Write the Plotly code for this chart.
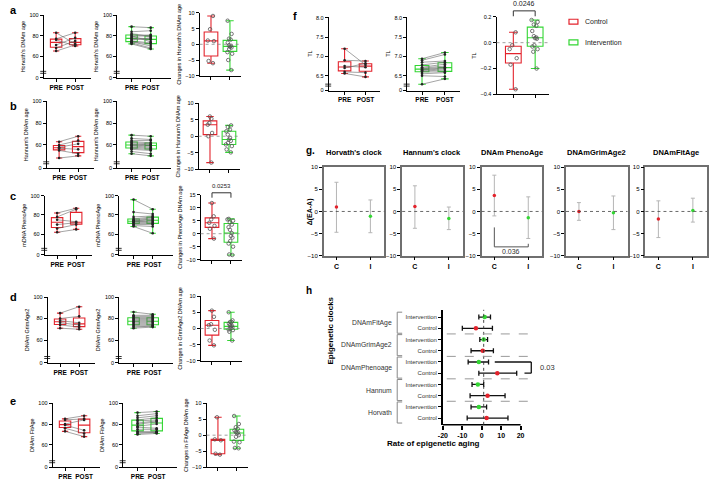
import numpy as np
import plotly.graph_objects as go

W, H = 709, 480
RED = '#e3232c'
GREEN = '#33d633'
FONT = 'Arial, Liberation Sans, Helvetica, sans-serif'

# ---------------- data ----------------
# a: Horvath
HORVATH_CTRL_PRE = [83, 77, 76, 71, 68, 65]
HORVATH_CTRL_POST = [72, 83, 70, 78, 75, 71]
HORVATH_INT_PRE = [89, 84, 82, 81, 80, 79, 78, 77, 76, 75, 74, 74, 73, 72]
HORVATH_INT_POST = [88, 85, 80, 79, 74, 81, 77, 76, 78, 73, 70, 72, 68, 67]
HORVATH_CHG_CTRL = [9.0, 4.8, 1.2, 1.0, -5.3, -6.0]
HORVATH_CHG_INT = [7.5, 3.3, 1.8, 1.5, 0.5, -0.3, -0.5, -0.8, -1.0, -1.5, -2.5, -3.0, -5.0, -8.2]
# b: Hannum
HANNUM_CTRL_PRE = [63, 60, 58, 57, 55, 48]
HANNUM_CTRL_POST = [68, 64, 61, 56, 52, 50]
HANNUM_INT_PRE = [69, 66, 64, 63, 62, 61, 60, 60, 59, 58, 57, 56, 54, 52]
HANNUM_INT_POST = [68, 65, 64, 62, 61, 60, 60, 59, 58, 57, 56, 55, 52, 50]
HANNUM_CHG_CTRL = [6.0, 5.3, 4.0, 3.5, 1.0, 0.0, -8.0]
HANNUM_CHG_INT = [3.3, 2.8, 2.0, 1.5, 0.5, -0.5, -1.0, -1.4, -2.0, -2.5, -3.0, -4.0, -4.9]
# c: PhenoAge
PHENO_CTRL_PRE = [82, 78, 75, 70, 66, 62]
PHENO_CTRL_POST = [87, 86, 73, 72, 70, 65]
PHENO_INT_PRE = [96, 83, 78, 76, 75, 74, 74, 73, 73, 72, 71, 70, 69, 68]
PHENO_INT_POST = [86, 81, 79, 78, 77, 76, 75, 74, 73, 72, 71, 70, 68, 61]
PHENO_CHG_CTRL = [11.8, 6.7, 5.5, 4.2, 3.0, 1.9, -1.9]
PHENO_CHG_INT = [5.7, 5.5, 5.0, 4.3, 3.5, 2.5, 1.5, 0.2, -0.9, -1.5, -2.8, -3.8, -5.0, -8.0, -8.2]
# d: GrimAge2
GRIM_CTRL_PRE = [85, 80, 78, 76, 74, 71]
GRIM_CTRL_POST = [91, 82, 76, 74, 72, 70]
GRIM_INT_PRE = [86, 83, 82, 81, 80, 79, 78, 77, 76, 75, 74, 73, 72, 71]
GRIM_INT_POST = [84, 83, 82, 81, 80, 79, 78, 77, 76, 75, 74, 73, 73, 72]
GRIM_CHG_CTRL = [5.5, 3.6, 1.3, 1.0, -0.4, -3.7, -5.2]
GRIM_CHG_INT = [5.0, 2.5, 2.0, 2.0, 1.5, 1.0, 0.8, 0.5, 0.3, 0.0, -0.3, -0.5, -1.0, -3.7]
# e: FitAge
FIT_CTRL_PRE = [85, 84, 80, 79, 76, 73]
FIT_CTRL_POST = [88, 85, 84, 74, 71, 68]
FIT_INT_PRE = [91, 88, 86, 84, 83, 81, 80, 78, 77, 75, 73, 72, 71, 70]
FIT_INT_POST = [92, 90, 88, 86, 84, 83, 82, 80, 76, 75, 73, 72, 72, 71]
FIT_CHG_CTRL = [5.6, -1.3, -1.6, -5.8, -6.1]
FIT_CHG_INT = [6.0, 3.5, 2.5, 2.0, 1.5, 1.0, 0.8, 0.6, 0.0, -0.5, -2.0, -2.2, -4.0, -4.1]
# f: telomere length
TL_CTRL_PRE = [7.2, 6.9, 6.75, 6.7, 6.6, 6.56]
TL_CTRL_POST = [6.78, 6.88, 6.72, 6.82, 6.58, 6.47]
TL_INT_PRE = [6.94, 6.9, 6.85, 6.78, 6.72, 6.7, 6.68, 6.66, 6.64, 6.62, 6.6, 6.55, 6.5, 6.28]
TL_INT_POST = [7.1, 7.05, 6.88, 6.85, 6.8, 6.75, 6.72, 6.7, 6.68, 6.65, 6.6, 6.58, 6.48, 6.42]
TL_CHG_CTRL = [0.08, -0.02, -0.05, -0.12, -0.17, -0.36]
TL_CHG_INT = [0.175, 0.16, 0.14, 0.13, 0.09, 0.05, 0.04, 0.035, 0.03, -0.02, -0.03, -0.05, -0.07, -0.2]
# g: Δ(EA-A)
G_CLOCKS = ["Horvath's clock", "Hannum's clock", "DNAm PhenoAge", "DNAmGrimAge2", "DNAmFitAge"]
G_C_MEAN = [1.0, 1.1, 3.6, 0.0, -1.7]
G_C_LO = [-4.7, -3.8, -1.0, -2.0, -5.9]
G_C_HI = [6.6, 5.8, 8.2, 2.0, 2.4]
G_I_MEAN = [-1.1, -1.6, -1.4, -0.3, 0.2]
G_I_LO = [-4.8, -4.1, -6.1, -4.1, -2.4]
G_I_HI = [2.6, 1.0, 3.3, 3.5, 3.0]
G_CATS = ['C', 'I']
# h: rate of epigenetic aging (bottom to top)
H_CLOCKS = ['Horvath', 'Hannum', 'DNAmPhenoage', 'DNAmGrimAge2', 'DNAmFitAge']
H_C_MEAN = [2.5, 3.0, 8.0, 0.5, -3.0]
H_C_LO = [-7.5, -6.0, -1.5, -5.5, -10.0]
H_C_HI = [13.5, 12.0, 18.0, 6.0, 5.5]
H_I_MEAN = [-1.5, -2.0, -1.5, 1.0, 1.5]
H_I_LO = [-5.5, -5.0, -7.0, -1.0, -1.5]
H_I_HI = [2.5, 1.0, 3.5, 3.0, 4.5]
H_XTICKS = [-20, -10, 0, 10, 20]
GROUPS = ['Control', 'Intervention']

# ---------------- helpers ----------------
fig = go.Figure()
AX = {}
SHAPES = []
ANN = []
cnt = [0]


def fx(p):
    return p / W


def fy(p):
    return 1 - p / H


def axes(x0, x1, top, bottom, xcfg, ycfg):
    cnt[0] += 1
    i = cnt[0]
    s = '' if i == 1 else str(i)
    base = dict(showgrid=False, zeroline=False, showline=True, linecolor='black', linewidth=1,
                ticks='outside', ticklen=3, tickwidth=1, tickcolor='black', fixedrange=True,
                tickfont=dict(family=FONT, size=5.5, color='black'))
    xd = dict(base)
    xd.update(domain=[fx(x0), fx(x1)], anchor='y' + s)
    xd.update(xcfg)
    yd = dict(base)
    yd.update(domain=[fy(bottom), fy(top)], anchor='x' + s)
    yd.update(ycfg)
    AX['xaxis' + s] = xd
    AX['yaxis' + s] = yd
    return 'x' + s, 'y' + s


def stat_box(xa, ya, pos, vals, color, width):
    a = np.array(vals, float)
    q1, med, q3 = np.percentile(a, [25, 50, 75])
    fig.add_trace(go.Box(x=[pos], q1=[q1], median=[med], q3=[q3], lowerfence=[a.min()],
                         upperfence=[a.max()], xaxis=xa, yaxis=ya, width=width, whiskerwidth=0.55,
                         line=dict(color=color, width=1.1), fillcolor='rgba(255,255,255,0)',
                         boxpoints=False, showlegend=False, hoverinfo='skip'))


def jitter_points(xa, ya, pos, vals, width):
    fig.add_trace(go.Box(x=[pos] * len(vals), y=vals, xaxis=xa, yaxis=ya, width=width,
                         boxpoints='all', jitter=0.55, pointpos=0,
                         line=dict(color='rgba(0,0,0,0)', width=0), fillcolor='rgba(0,0,0,0)',
                         marker=dict(symbol='circle-open', size=3.5, color='#555',
                                     line=dict(width=0.8)),
                         showlegend=False, hoverinfo='skip'))


def paired(x0, w, top, bottom, pre, post, color, title, yr, tv, tt, xr):
    xa, ya = axes(x0, x0 + w, top, bottom,
                  dict(range=xr, tickvals=[0, 1], ticktext=['<b>PRE</b>', '<b>POST</b>'],
                       tickfont=dict(family=FONT, size=6.5, color='black')),
                  dict(range=yr, tickvals=tv, ticktext=tt,
                       title=dict(text=title, font=dict(family=FONT, size=5.5, color='black'), standoff=3)))
    for pos, vals in ((0, pre), (1, post)):
        stat_box(xa, ya, pos, vals, color, 0.6)
    xs, ys = [], []
    for a, b in zip(pre, post):
        xs += [0, 1, None]
        ys += [a, b, None]
    fig.add_trace(go.Scatter(x=xs, y=ys, xaxis=xa, yaxis=ya, mode='lines+markers',
                             line=dict(color='#666', width=0.6), marker=dict(color='#222', size=2.6),
                             hoverinfo='skip', showlegend=False))
    for dy in (4.5, 6.5):
        SHAPES.append(dict(type='line', xref='paper', yref='paper', x0=fx(x0 - 3.5), x1=fx(x0 + 2.5),
                           y0=fy(bottom - dy), y1=fy(bottom - dy), line=dict(color='black', width=0.8)))
    return xa, ya


def change(x0, w, top, bottom, ctrl, intv, title, yr, dtick, xr, tickformat=None):
    ycfg = dict(range=yr, dtick=dtick, tick0=0,
                title=dict(text=title, font=dict(family=FONT, size=5.5, color='black'), standoff=3))
    if tickformat:
        ycfg['tickformat'] = tickformat
    xa, ya = axes(x0, x0 + w, top, bottom,
                  dict(range=xr, tickvals=[0, 1], showticklabels=False), ycfg)
    for pos, vals, col in ((0, ctrl, RED), (1, intv, GREEN)):
        stat_box(xa, ya, pos, vals, col, 0.72)
        jitter_points(xa, ya, pos, vals, 0.72)
    SHAPES.append(dict(type='line', xref=xa + ' domain', yref=ya, x0=0, x1=1, y0=0, y1=0,
                       line=dict(color='#888', width=0.8, dash='dot')))
    return xa, ya


def bracket_px(xl, xr, ytop, yl, yrr, text, size=6.5):
    for (a, b, c, d) in ((xl, yl, xl, ytop), (xl, ytop, xr, ytop), (xr, ytop, xr, yrr)):
        SHAPES.append(dict(type='line', xref='paper', yref='paper', x0=fx(a), y0=fy(b), x1=fx(c),
                           y1=fy(d), line=dict(color='#333', width=1)))
    ANN.append(dict(xref='paper', yref='paper', x=fx((xl + xr) / 2), y=fy(ytop - 1.5), text=text,
                    showarrow=False, xanchor='center', yanchor='bottom',
                    font=dict(family=FONT, size=size, color='#222')))


def label(x, y, t, size=11):
    ANN.append(dict(xref='paper', yref='paper', x=fx(x), y=fy(y), text='<b>' + t + '</b>',
                    showarrow=False, xanchor='left', yanchor='middle',
                    font=dict(family=FONT, size=size, color='black')))


# ---------------- left column: a-e ----------------
ROWS = [
    # letter, paired top/bottom, change top/bottom, col x positions, label y
    ('a', 12.7, 76, 10, 74, (39, 113, 196), 7),
    ('b', 100, 168, 102, 169, (42, 113, 195), 105),
    ('c', 196, 256, 195, 261, (40, 115, 197), 196),
    ('d', 299, 366, 298, 364, (43, 115, 197), 299),
    ('e', 407, 472, 407, 472, (48, 119, 203), 405),
]
DATA = [
    (HORVATH_CTRL_PRE, HORVATH_CTRL_POST, HORVATH_INT_PRE, HORVATH_INT_POST, HORVATH_CHG_CTRL, HORVATH_CHG_INT,
     "Horvath's DNAm age", "Horvath's DNAm age", "Changes in Horvath's DNAm age"),
    (HANNUM_CTRL_PRE, HANNUM_CTRL_POST, HANNUM_INT_PRE, HANNUM_INT_POST, HANNUM_CHG_CTRL, HANNUM_CHG_INT,
     "Hannum's DNAm age", "Hannum's DNAm age", "Changes in Hannum's DNAm age"),
    (PHENO_CTRL_PRE, PHENO_CTRL_POST, PHENO_INT_PRE, PHENO_INT_POST, PHENO_CHG_CTRL, PHENO_CHG_INT,
     'mDNA PhenoAge', 'mDNA PhenoAge', 'Changes in PhenoAge DNAm age'),
    (GRIM_CTRL_PRE, GRIM_CTRL_POST, GRIM_INT_PRE, GRIM_INT_POST, GRIM_CHG_CTRL, GRIM_CHG_INT,
     'DNAm GrimAge2', 'DNAm GrimAge2', 'Changes in GrimAge2 DNAm age'),
    (FIT_CTRL_PRE, FIT_CTRL_POST, FIT_INT_PRE, FIT_INT_POST, FIT_CHG_CTRL, FIT_CHG_INT,
     'DNAm FitAge', 'DNAm FitAge', 'Changes in FitAge DNAm age'),
]
PAIR_YR = [38.7, 100]
PAIR_TV = [38.7, 60, 80, 100]
PAIR_TT = ['0', '60', '80', '100']
for (let, pt, pb, ct, cb, cols, ly), d in zip(ROWS, DATA):
    cpre, cpost, ipre, ipost, chc, chi, t1, t2, t3 = d
    label(3, ly, let)
    paired(cols[0], 48, pt, pb, cpre, cpost, RED, t1, PAIR_YR, PAIR_TV, PAIR_TT, [-0.65, 1.85])
    paired(cols[1], 54, pt, pb, ipre, ipost, GREEN, t2, PAIR_YR, PAIR_TV, PAIR_TT, [-0.75, 2.05])
    yr = [-10, 15] if let == 'c' else [-10, 10]
    change(cols[2], 42, ct, cb, chc, chi, t3, yr, 5, [-0.6, 1.6])
    if let == 'c':
        x0 = cols[2]
        c0 = x0 + 0.6 / 2.2 * 42
        c1 = x0 + 1.6 / 2.2 * 42
        bracket_px(c0, c1, 193, 198, 198, '0.0253', 6)

# ---------------- f ----------------
label(288, 13, 'f')
TL_YR = [6.118, 8.025]
paired(326, 52, 14, 89, TL_CTRL_PRE, TL_CTRL_POST, RED, 'TL', TL_YR,
       [6.118, 6.5, 7.0, 7.5, 8.0], ['0', '6.5', '7.0', '7.5', '8.0'], [-0.76, 1.71])
paired(405, 53, 14, 89, TL_INT_PRE, TL_INT_POST, GREEN, 'TL', TL_YR,
       [6.118, 6.5, 7.0, 7.5, 8.0], ['0', '6.5', '7.0', '7.5', '8.0'], [-0.65, 1.65])
change(495, 53, 14, 93, TL_CHG_CTRL, TL_CHG_INT, 'TL', [-0.4, 0.2], 0.2, [-0.77, 1.64], '.1f')
c0 = 495 + 0.77 / 2.41 * 53
c1 = 495 + 1.77 / 2.41 * 53
bracket_px(c0, c1, 8, 13.5, 13.5, '0.0246', 7)
# legend
for (yy, col, name) in ((19, RED, 'Control'), (40, GREEN, 'Intervention')):
    SHAPES.append(dict(type='rect', xref='paper', yref='paper', x0=fx(568), x1=fx(577), y0=fy(yy + 2.5),
                       y1=fy(yy - 2.5), line=dict(color=col, width=1.2), fillcolor='white'))
    ANN.append(dict(xref='paper', yref='paper', x=fx(582), y=fy(yy), text=name, showarrow=False,
                    xanchor='left', yanchor='middle', font=dict(family=FONT, size=7, color='#222')))

# ---------------- g ----------------
label(301, 150, 'g.', 10)
GX = [(321, 382), (400, 461), (480, 541), (565, 627), (645, 707)]
GTOP, GBOT = 167, 257
for k in range(5):
    x0, x1 = GX[k]
    xa, ya = axes(x0, x1, GTOP, GBOT,
                  dict(range=[-0.375, 1.41], tickvals=[0, 1], ticktext=['<b>' + c + '</b>' for c in G_CATS],
                       mirror=True, linecolor='#6f6f6f', linewidth=1.5,
                       tickfont=dict(family=FONT, size=7, color='black')),
                  dict(range=[-10, 10], dtick=5, tick0=0, mirror=True, linecolor='#6f6f6f', linewidth=1.5,
                       tickfont=dict(family=FONT, size=6, color='black')))
    SHAPES.append(dict(type='line', xref=xa + ' domain', yref=ya, x0=0, x1=1, y0=0, y1=0,
                       line=dict(color='#444', width=0.8, dash='dot')))
    for pos, m, lo, hi, col in ((0, G_C_MEAN[k], G_C_LO[k], G_C_HI[k], RED),
                                (1, G_I_MEAN[k], G_I_LO[k], G_I_HI[k], GREEN)):
        fig.add_trace(go.Scatter(x=[pos], y=[m], xaxis=xa, yaxis=ya, mode='markers',
                                 marker=dict(color=col, size=3.5),
                                 error_y=dict(type='data', symmetric=False, array=[hi - m], arrayminus=[m - lo],
                                              color='#b5b5b5', thickness=1, width=2),
                                 showlegend=False, hoverinfo='skip'))
    ANN.append(dict(xref='paper', yref='paper', x=fx((x0 + x1) / 2), y=fy(152), text='<b>' + G_CLOCKS[k] + '</b>',
                    showarrow=False, xanchor='center', yanchor='middle',
                    font=dict(family=FONT, size=7.5, color='black')))
    if k == 2:
        for (a, b, c, d) in ((0, -3.6, 0, -8), (0, -8, 1, -8), (1, -8, 1, -7.3)):
            SHAPES.append(dict(type='line', xref=xa, yref=ya, x0=a, y0=b, x1=c, y1=d,
                               line=dict(color='#555', width=1)))
        ANN.append(dict(xref=xa, yref=ya, x=0.5, y=-9.1, text='0.036', showarrow=False,
                        font=dict(family=FONT, size=7, color='#333')))
ANN.append(dict(xref='paper', yref='paper', x=fx(308), y=fy(212), text='<b>Δ(EA-A)</b>', textangle=-90,
                showarrow=False, font=dict(family=FONT, size=7, color='black')))

# ---------------- h ----------------
label(301, 292, 'h', 10)
HX0, HX1, HTOP, HBOT = 441, 531, 312, 429
HXR = [-20, 26]
HYR = [-0.6, 9.65]


def hy(row):
    return HBOT - (row - HYR[0]) / (HYR[1] - HYR[0]) * (HBOT - HTOP)


def hx(v):
    return HX0 + (v - HXR[0]) / (HXR[1] - HXR[0]) * (HX1 - HX0)


xa, ya = axes(HX0, HX1, HTOP, HBOT,
              dict(range=HXR, tickvals=H_XTICKS, ticktext=['<b>%d</b>' % v for v in H_XTICKS], showline=False,
                   tickfont=dict(family=FONT, size=7, color='black'), ticklen=4, tickwidth=1.5),
              dict(range=HYR, tickvals=list(range(10)), ticktext=GROUPS * 5, linewidth=1.5,
                   tickfont=dict(family=FONT, size=6, color='#333')))
SHAPES.append(dict(type='line', xref='paper', yref='paper', x0=fx(hx(H_XTICKS[0])), x1=fx(hx(H_XTICKS[-1])),
                   y0=fy(HBOT), y1=fy(HBOT), line=dict(color='black', width=1.5)))
SHAPES.append(dict(type='line', xref=xa, yref=ya + ' domain', x0=1, x1=1, y0=0, y1=1,
                   line=dict(color='#333', width=0.9, dash='dot')))
for k in range(5):
    for j, (m, lo, hi, col) in enumerate(((H_C_MEAN[k], H_C_LO[k], H_C_HI[k], RED),
                                          (H_I_MEAN[k], H_I_LO[k], H_I_HI[k], GREEN))):
        fig.add_trace(go.Scatter(x=[m], y=[2 * k + j], xaxis=xa, yaxis=ya, mode='markers',
                                 marker=dict(color=col, size=4.5),
                                 error_x=dict(type='data', symmetric=False, array=[hi - m], arrayminus=[m - lo],
                                              color='#111', thickness=1.3, width=2.5),
                                 showlegend=False, hoverinfo='skip'))
    # group label + bracket
    ymid = hy(2 * k + 0.5)
    ANN.append(dict(xref='paper', yref='paper', x=fx(392), y=fy(ymid), text=H_CLOCKS[k], showarrow=False,
                    xanchor='right', yanchor='middle', font=dict(family=FONT, size=6.8, color='#333')))
    yt, yb = hy(2 * k + 1) - 5, hy(2 * k) + 5
    for (a, b, c, d) in ((400, yt, 395, yt), (395, yt, 395, yb), (395, yb, 400, yb)):
        SHAPES.append(dict(type='line', xref='paper', yref='paper', x0=fx(a), y0=fy(b), x1=fx(c), y1=fy(d),
                           line=dict(color='#888', width=1)))
    if k < 4:
        SHAPES.append(dict(type='line', xref=xa, yref=ya, x0=-18, x1=24, y0=2 * k + 1.5, y1=2 * k + 1.5,
                           line=dict(color='#999', width=1, dash='dash')))
# significance bracket (PhenoAge)
for (a, b, c, d) in ((6.7, 5, 25.5, 5), (25.5, 5, 25.5, 4), (25.5, 4, 22, 4)):
    SHAPES.append(dict(type='line', xref=xa, yref=ya, x0=a, y0=b, x1=c, y1=d, line=dict(color='#111', width=1.3)))
ANN.append(dict(xref='paper', yref='paper', x=fx(537), y=fy(hy(4.5)), text='0.03', showarrow=False,
                xanchor='left', yanchor='middle', font=dict(family=FONT, size=7.5, color='#333')))
ANN.append(dict(xref='paper', yref='paper', x=fx(328), y=fy(370), text='<b>Epigenetic clocks</b>', textangle=-90,
                showarrow=False, font=dict(family=FONT, size=8, color='black')))
ANN.append(dict(xref='paper', yref='paper', x=fx(480), y=fy(455), text='<b>Rate of epigenetic aging</b>',
                showarrow=False, font=dict(family=FONT, size=8, color='black')))

fig.update_layout(width=W, height=H, margin=dict(l=0, r=0, t=0, b=0), paper_bgcolor='white',
                  plot_bgcolor='rgba(0,0,0,0)', showlegend=False, boxmode='overlay',
                  font=dict(family=FONT, color='black'), shapes=SHAPES, annotations=ANN, **AX)
fig.write_html('out.html')
